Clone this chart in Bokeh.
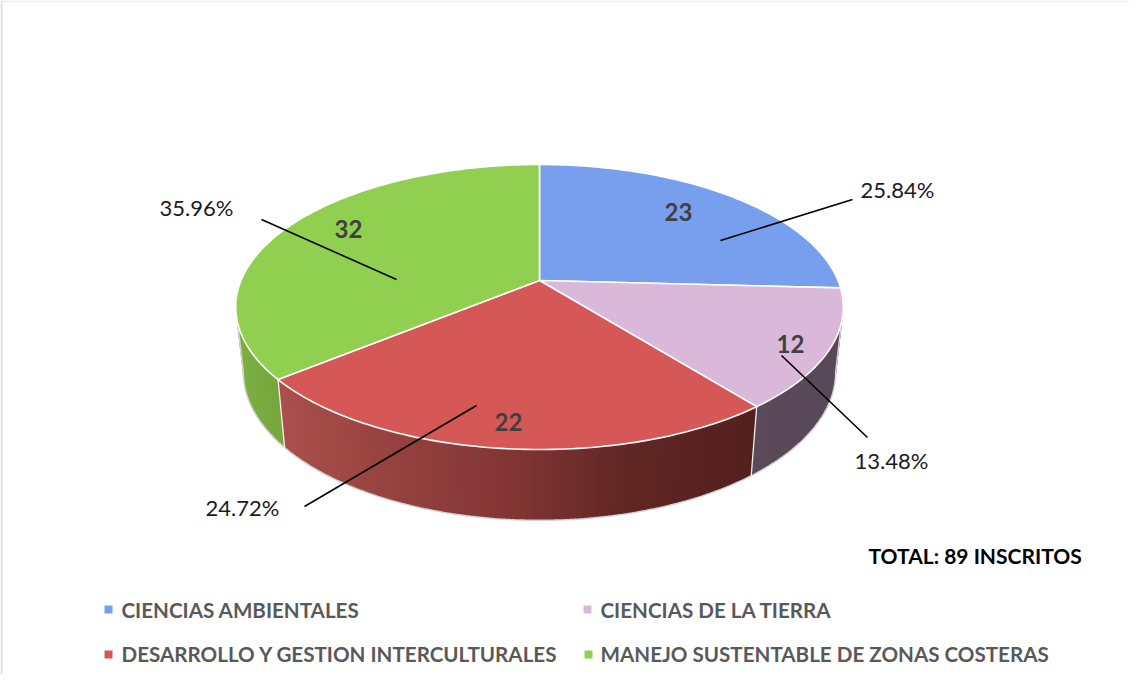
import math
from bokeh.plotting import figure
from bokeh.models import Range1d
from bokeh.core.properties import value
from bokeh.embed import file_html
from bokeh.resources import INLINE

categories = ["CIENCIAS AMBIENTALES", "CIENCIAS DE LA TIERRA",
              "DESARROLLO Y GESTION INTERCULTURALES", "MANEJO SUSTENTABLE DE ZONAS COSTERAS"]
inscritos = [23, 12, 22, 32]
total_label = "TOTAL: 89 INSCRITOS"

top_colors = ["#779FEE", "#D9B8DA", "#D55857", "#90CF50"]
# wall shading: (screen x, rgb) stops for each slice
wall_stops = [
    [(0, (90, 120, 180)), (1200, (90, 120, 180))],
    [(750, (92, 74, 90)), (850, (88, 72, 88))],
    [(287, (172, 80, 76)), (400, (150, 66, 62)), (520, (130, 54, 52)), (640, (96, 38, 36)), (763, (84, 32, 30))],
    [(244, (126, 176, 66)), (290, (118, 166, 62))],
]

# pie geometry (screen pixels) with perspective
CX, CY, A, B, K = 547.0, 288.0, 298.5, 137.6, 0.186
SX, SY, Y1 = 0.975, 1.04, 352.0
FONT = value("Lato")


def proj(theta, bottom=False):
    u, v = math.sin(theta), math.cos(theta)
    d = 1 + K * v
    if bottom:
        return CX + SX * A * u / d, Y1 - SY * B * v / d
    return CX + A * u / d, CY - B * v / d


def shade(stops, x):
    if x <= stops[0][0]:
        c = stops[0][1]
    elif x >= stops[-1][0]:
        c = stops[-1][1]
    else:
        for (x0, c0), (x1, c1) in zip(stops, stops[1:]):
            if x0 <= x <= x1:
                f = (x - x0) / (x1 - x0)
                c = tuple(a + (b - a) * f for a, b in zip(c0, c1))
                break
    return "#%02x%02x%02x" % tuple(int(round(q)) for q in c)


p = figure(width=1129, height=674, output_backend="svg", toolbar_location=None,
           x_range=Range1d(8, 1137), y_range=Range1d(682, 8),
           x_axis_type=None, y_axis_type=None, min_border=0, outline_line_color=None)
p.grid.visible = False

# card border
p.line([9, 9], [8, 682], line_color="#DEDEDE", line_width=2)
p.line([8, 1137], [8.6, 8.6], line_color="#E4E4E4", line_width=1.2)

total = sum(inscritos)
edges = [0.0]
for n in inscritos:
    edges.append(edges[-1] + 2 * math.pi * n / total)

# walls: overlapping bands so no seams show between them
wx, wy, wc = [], [], []
STEP = math.radians(1.0)
vis0, vis1 = math.pi - math.acos(K), math.pi + math.acos(K)
for i, stops in enumerate(wall_stops):
    a0, a1 = max(edges[i], vis0), min(edges[i + 1], vis1)
    if a1 <= a0:
        continue
    n = max(2, int((a1 - a0) / STEP))
    ths = [a0 + (a1 - a0) * j / n for j in range(n + 1)]
    for t0, t1 in zip(ths, ths[1:]):
        t2 = min(t1 + STEP, vis1)
        x0, y0 = proj(t0); x1, y1 = proj(t2)
        x2, y2 = proj(t2, True); x3, y3 = proj(t0, True)
        wx.append([x0, x1, x2, x3]); wy.append([y0, y1, y2, y3])
        wc.append(shade(stops, (x0 + x3) / 2))
p.patches(wx, wy, fill_color=wc, line_color=None)

# lower rim + silhouette
ths = [vis0 + (vis1 - vis0) * j / 200 for j in range(201)]
pts = [proj(vis0)] + [proj(t, True) for t in ths] + [proj(vis1)]
p.line([q[0] for q in pts], [q[1] for q in pts], line_color="#D4D4D4", line_width=1.5)

# wall separators
for e in edges[1:-1]:
    if vis0 < e < vis1:
        a, b = proj(e), proj(e, True)
        p.line([a[0], b[0]], [a[1], b[1]], line_color="#F0F0F0", line_width=1.3)

# top slices
for i, c in enumerate(top_colors):
    n = max(2, int((edges[i + 1] - edges[i]) / STEP))
    arc = [proj(edges[i] + (edges[i + 1] - edges[i]) * j / n) for j in range(n + 1)]
    p.patch([CX] + [q[0] for q in arc], [CY] + [q[1] for q in arc],
            fill_color=c, line_color="#FFFFFF", line_width=1.6, line_join="round")

# leader lines
leaders = [((860, 207), (728, 248)), ((875, 445), (789, 363)),
           ((312, 514), (484, 413)), ((269, 227), (404, 287))]
for a, b in leaders:
    p.line([a[0], b[0]], [a[1], b[1]], line_color="#000000", line_width=1.6)

# value labels
val_pos = [(686, 219), (798, 351), (516, 429), (356, 236)]
p.text([q[0] for q in val_pos], [q[1] for q in val_pos], text=[str(n) for n in inscritos],
       text_font=FONT, text_font_style="bold", text_font_size="24px", text_color="#404040",
       text_align="center", text_baseline="middle")

pct_pos = [(905, 197), (899, 468), (250, 515), (204, 215)]
p.text([q[0] for q in pct_pos], [q[1] for q in pct_pos],
       text=["%.2f%%" % (100 * n / total) for n in inscritos],
       text_font=FONT, text_font_size="22px", text_color="#1A1A1A",
       text_align="center", text_baseline="middle")

p.text([876], [563], text=[total_label], text_font=FONT, text_font_style="bold",
       text_font_size="21px", text_color="#000000", text_align="left", text_baseline="middle")

# legend
leg_pos = [(116, 617), (595, 617), (116, 662), (596, 662)]
leg_txt = [(129, 617), (608, 617), (129, 661), (608, 661)]
p.rect([q[0] for q in leg_pos], [q[1] for q in leg_pos], width=8, height=8,
       fill_color=top_colors, line_color=None)
p.text([q[0] for q in leg_txt], [q[1] for q in leg_txt], text=categories,
       text_font=FONT, text_font_style="bold", text_font_size="20.6px", text_color="#595959",
       text_align="left", text_baseline="middle")

open("out.html", "w").write(file_html(p, INLINE))
